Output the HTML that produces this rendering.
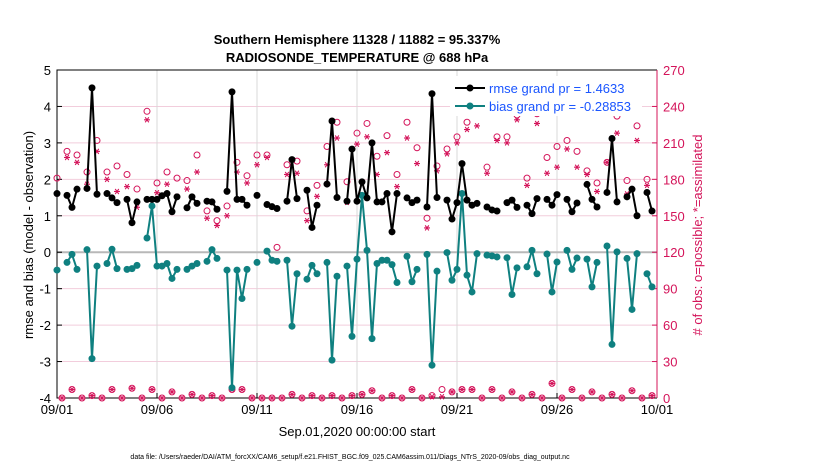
<!DOCTYPE html>
<html><head><meta charset="utf-8"><style>
html,body{margin:0;padding:0;background:#fff;}
svg{display:block;font-family:"Liberation Sans",sans-serif;}
</style></head><body>
<svg id="chart" width="830" height="470" viewBox="0 0 830 470" xmlns="http://www.w3.org/2000/svg">
<text x="357" y="44" text-anchor="middle" font-size="13" font-weight="bold">Southern Hemisphere 11328 / 11882 = 95.337%</text>
<text x="357" y="62" text-anchor="middle" font-size="13" font-weight="bold">RADIOSONDE_TEMPERATURE @ 688 hPa</text>
<g id="grid"></g><g id="axes"></g><g id="marks"></g>
<text x="357" y="436" text-anchor="middle" font-size="13">Sep.01,2020 00:00:00 start</text>
<text transform="translate(33,235) rotate(-90)" text-anchor="middle" font-size="13">rmse and bias (model - observation)</text>
<text transform="translate(702,235) rotate(-90)" text-anchor="middle" font-size="13" fill="#d4145a"># of obs: o=possible; *=assimilated</text>
<text x="350" y="459" text-anchor="middle" font-size="7">data file: /Users/raeder/DAI/ATM_forcXX/CAM6_setup/f.e21.FHIST_BGC.f09_025.CAM6assim.011/Diags_NTrS_2020-09/obs_diag_output.nc</text>
<g>
<rect x="450" y="76" width="192" height="40" fill="#fff"/>
<g>
<line x1="455" y1="88" x2="485" y2="88" stroke="#000" stroke-width="2"/><circle cx="470" cy="88" r="3.5" fill="#000"/>
<text x="489" y="93" font-size="13" fill="#1a55ff">rmse grand pr = 1.4633</text></g>
<g>
<line x1="455" y1="106" x2="485" y2="106" stroke="#0f8080" stroke-width="2"/><circle cx="470" cy="106" r="3.5" fill="#0f8080"/>
<text x="489" y="111" font-size="13" fill="#1a55ff">bias grand pr = -0.28853</text></g>
</g>
</svg>
<script>
const N=null;
const rmse=[1.61,N,1.56,1.23,1.73,N,1.75,4.51,1.59,N,1.61,1.49,1.36,N,1.45,0.81,1.38,N,1.45,1.45,
1.45,1.55,1.61,1.11,1.52,N,1.22,1.52,1.34,N,1.40,1.38,1.18,N,1.67,4.40,1.45,1.45,1.29,N,
1.56,N,1.31,1.25,1.20,N,1.40,2.54,1.47,N,1.70,0.68,1.29,N,1.87,3.60,1.50,N,1.40,2.83,
1.40,1.93,1.49,3.00,1.38,1.38,1.61,0.56,1.61,N,1.49,1.36,1.43,N,1.24,4.35,1.50,N,1.43,0.91,
1.36,2.43,1.43,1.29,1.34,N,1.24,1.16,1.13,N,1.36,1.43,1.23,N,1.29,1.06,1.47,N,1.45,1.29,
1.58,N,1.45,1.11,1.35,N,1.86,1.45,1.24,N,1.64,3.12,1.38,N,1.52,1.73,1.00,N,1.64,1.13];
const bias=[-0.49,N,-0.28,-0.06,-0.47,N,0.07,-2.92,-0.38,N,-0.31,0.08,-0.45,N,-0.47,-0.45,-0.36,N,0.39,1.27,
-0.38,-0.38,-0.31,-0.72,-0.47,N,-0.47,-0.38,-0.31,N,-0.25,0.07,-0.17,N,-0.49,-3.72,-0.49,-1.27,-0.47,N,
-0.28,N,0.03,-0.22,-0.25,N,-0.22,-2.03,-0.59,N,-0.74,-0.36,-0.59,N,-0.28,-2.96,-0.66,N,-0.38,-2.31,
-0.19,1.56,0.05,-2.37,-0.31,-0.22,-0.22,-0.34,-0.83,N,-0.11,-0.81,-0.47,N,-0.06,-3.10,-0.52,N,-0.01,-0.77,
-0.47,1.61,-0.63,-1.09,-0.04,N,-0.08,-0.10,-0.13,N,-0.15,-1.16,-0.43,N,-0.40,0.05,-0.59,N,-0.05,-1.09,
-0.27,N,0.05,-0.47,-0.16,N,-0.19,-0.95,-0.28,N,0.17,-2.53,0.01,N,-0.17,-1.57,-0.04,N,-0.59,-0.95];
const possible=[181,0,203,7,200,0,186,2,212,0,186,7,191,0,184,8,172,0,236,7,
177,0,186,5,181,0,179,3,200,0,154,2,146,0,158,7,194,7,183,0,
200,0,200,0,124,0,192,3,195,0,154,2,175,0,207,2,227,0,178,2,
218,3,226,6,199,0,216,2,184,0,227,7,206,0,148,2,191,7,205,5,
215,7,227,7,235,0,190,7,215,0,215,5,233,0,181,3,234,0,198,12,
207,0,212,7,203,0,187,5,177,0,194,3,232,0,179,6,224,0,180,2];
const assimilated=[168,0,198,7,194,0,176,2,203,0,180,7,170,0,174,8,157,0,229,7,
169,0,176,5,166,0,172,3,186,0,148,2,142,0,150,7,186,7,177,0,
192,0,198,0,113,0,184,3,185,0,146,2,166,0,192,2,214,0,161,2,
209,3,215,6,184,0,202,2,174,0,214,7,193,0,140,1,187,1,201,5,
210,7,221,7,224,0,185,7,212,0,210,5,229,0,175,3,226,0,185,12,
190,0,205,7,190,0,184,5,170,0,194,3,218,0,168,6,212,0,175,2];
const leftTicks=[5,4,3,2,1,0,-1,-2,-3,-4];
const rightTicks=[0,30,60,90,120,150,180,210,240,270];
const dateTicks=["09/01","09/06","09/11","09/16","09/21","09/26","10/01"];
const dateTickSlots=[0,20,40,60,80,100,120];

const X0=57,X1=657,Y0=70,Y1=398;
const xs=t=>X0+t*(X1-X0)/120;
const yL=v=>Y0+(5-v)*(Y1-Y0)/9;
const yR=c=>Y1-c*(Y1-Y0)/270;
const NS="http://www.w3.org/2000/svg";
function mk(tag,attrs,parent){const e=document.createElementNS(NS,tag);for(const k in attrs)e.setAttribute(k,attrs[k]);parent.appendChild(e);return e;}
const grid=document.getElementById('grid'),axes=document.getElementById('axes'),marks=document.getElementById('marks');
const RED="#d4145a";

leftTicks.forEach(v=>{
  if(v!==0&&v!==5&&v!==-4){const g=mk('line',{x1:X0,x2:X1,y1:yL(v),y2:yL(v),stroke:'#f2cddc','stroke-width':1},grid);
  
  }
  const l=mk('line',{x1:X0,x2:X0+5,y1:yL(v),y2:yL(v),stroke:'#000'},axes);
  
  
  const t=mk('text',{x:X0-6,y:yL(v)+5,'text-anchor':'end','font-size':13},axes);t.textContent=v;
  
  
});
rightTicks.forEach(c=>{
  const l=mk('line',{x1:X1-5,x2:X1,y1:yR(c),y2:yR(c),stroke:RED},axes);
  
  
  const t=mk('text',{x:X1+6,y:yR(c)+5,'font-size':13,fill:RED},axes);t.textContent=c;
  
  
});
dateTicks.forEach((d,i)=>{
  const x=xs(dateTickSlots[i]);
  if(i>0&&i<dateTicks.length-1){const g=mk('line',{x1:x,x2:x,y1:Y0,y2:Y1,stroke:'#d8d8d8'},grid);
  
  }
  const l=mk('line',{x1:x,x2:x,y1:Y1,y2:Y1-5,stroke:'#000'},axes);
  
  
  const t=mk('text',{x:x,y:Y1+16,'text-anchor':'middle','font-size':13},axes);t.textContent=d;
  
  
});
const zl=mk('line',{x1:X0,x2:X1,y1:yL(0),y2:yL(0),stroke:'#b8b8b8','stroke-width':2},grid);


const ax=mk('path',{d:`M${X1},${Y0}H${X0}V${Y1}H${X1}`,fill:'none',stroke:'#000','stroke-width':1},axes);


const ar=mk('line',{x1:X1,x2:X1,y1:Y0,y2:Y1,stroke:RED,'stroke-width':1},axes);



// obs markers
function star(cx,cy,parent){
  const g=mk('g',{stroke:RED,'stroke-width':1.1},parent);
  const r=3;
  mk('line',{x1:cx-r,x2:cx+r,y1:cy,y2:cy},g);
  mk('line',{x1:cx-r*0.6,x2:cx+r*0.6,y1:cy-r*0.85,y2:cy+r*0.85},g);
  mk('line',{x1:cx-r*0.6,x2:cx+r*0.6,y1:cy+r*0.85,y2:cy-r*0.85},g);
  return g;
}
possible.forEach((c,t)=>{
  const o=mk('circle',{cx:xs(t),cy:yR(c),r:3,fill:'none',stroke:RED,'stroke-width':1},marks);
  
  
});
assimilated.forEach((c,t)=>{
  const s=star(xs(t),yR(c),marks);
  
  
});
function series(vals,color,name){
  let d='',pen=false;
  vals.forEach((v,t)=>{
    if(v===null){pen=false;return;}
    d+=(pen?'L':'M')+xs(t).toFixed(1)+','+yL(v).toFixed(1);pen=true;
  });
  const p=mk('path',{d:d,fill:'none',stroke:color,'stroke-width':2,'stroke-linejoin':'round'},marks);
  
  
  vals.forEach((v,t)=>{
    if(v===null)return;
    const c=mk('circle',{cx:xs(t),cy:yL(v),r:3.5,fill:color},marks);
    
    
  });
}
series(bias,'#0f8080','bias');
series(rmse,'#000','rmse');
</script>
</body></html>
